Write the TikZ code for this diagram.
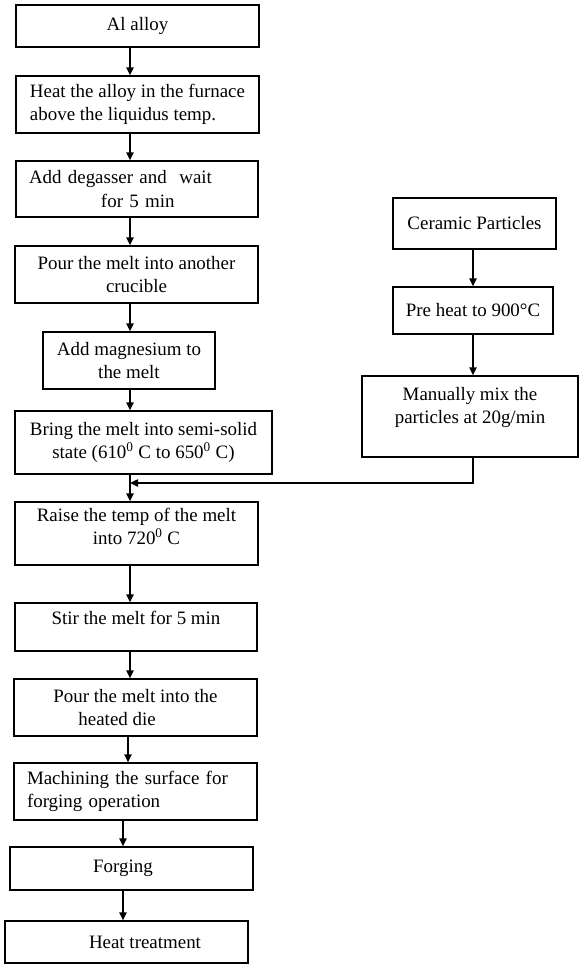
\documentclass[tikz,border=0pt]{standalone}
\usepackage{fontspec}
\setmainfont{Liberation Serif}
\usepackage{tikz}
\usetikzlibrary{arrows.meta}
\newlength\pxu
\setlength\pxu{0.75pt}

\begin{document}
\begin{tikzpicture}[
    x=0.75pt, y=-0.75pt,
    stepbox/.style={rectangle, draw=black, line width=1pt, align=center,
                  inner xsep=13\pxu, inner ysep=3\pxu,
                  font=\fontsize{14.2}{17.3}\selectfont},
    arr/.style={-{Triangle[length=6pt, width=5.5pt]}, line width=1pt},
]
\useasboundingbox (0,0) rectangle (579,965);

% main route
\node[stepbox, minimum width=243\pxu, minimum height=42\pxu] (alloy) at (137.5,26) {Al alloy};
\node[stepbox, align=left, minimum width=243\pxu, minimum height=57\pxu] (furnace) at (137.5,104.5) {Heat the alloy in the furnace\\above the liquidus temp.};
\node[stepbox, text width=216\pxu, align=left, minimum height=56\pxu] (degas) at (137,189) {Add degasser and\ \ wait\\\hspace*{72\pxu}for 5 min};
\node[stepbox, minimum width=243\pxu, minimum height=57\pxu] (crucible) at (136.5,274.5) {Pour the melt into another\\crucible};
\node[stepbox, minimum width=172\pxu, minimum height=57\pxu] (magnesium) at (129,360.5) {Add magnesium to\\the melt};
\node[stepbox, minimum width=257\pxu, minimum height=63\pxu] (semisolid) at (143.5,442.5) {Bring the melt into semi-solid\\state (610\textsuperscript{0} C to 650\textsuperscript{0} C)};
\node[stepbox, minimum width=243\pxu, minimum height=63\pxu] (raise) at (136.5,533.5) {Raise the temp of the melt\\into 720\textsuperscript{0} C\\[-8\pxu]\mbox{}};
\node[stepbox, minimum width=242\pxu, minimum height=48\pxu] (stir) at (136,627) {Stir the melt for 5 min\\[-5\pxu]\mbox{}};
\node[stepbox, align=left, minimum width=243\pxu, minimum height=57\pxu] (die) at (135.5,707.5) {Pour the melt into the\\\hspace*{25\pxu}heated die};
\node[stepbox, text width=217\pxu, align=left, minimum height=57\pxu] (machining) at (135.5,791.5) {Machining the surface for\\forging operation};
\node[stepbox, minimum width=243\pxu, minimum height=43\pxu] (forging) at (131.5,868.5) {Forging\hspace*{17\pxu}};
\node[stepbox, minimum width=243\pxu, minimum height=42\pxu] (treatment) at (126.5,942) {\hspace*{37\pxu}Heat treatment};

% particle route
\node[stepbox, minimum width=163\pxu, minimum height=51\pxu] (ceramic) at (474.5,223.5) {Ceramic Particles};
\node[stepbox, minimum width=158\pxu, minimum height=47\pxu] (preheat) at (473,310.5) {Pre heat to 900°C};
\node[stepbox, minimum width=216\pxu, minimum height=81\pxu] (mixing) at (470,416.5) {Manually mix the\\particles at 20g/min\\[-1\pxu]\mbox{}};

\coordinate (spine) at (130,0);
\coordinate (spineb) at (128,0);
\coordinate (spinec) at (123,0);
\coordinate (rspine) at (473,0);
\coordinate (merge) at (130,483);

\draw[arr] (alloy.south -| spine) -- (furnace.north -| spine);
\draw[arr] (furnace.south -| spine) -- (degas.north -| spine);
\draw[arr] (degas.south -| spine) -- (crucible.north -| spine);
\draw[arr] (crucible.south -| spine) -- (magnesium.north -| spine);
\draw[arr] (magnesium.south -| spine) -- (semisolid.north -| spine);
\draw[arr] (semisolid.south -| spine) -- (raise.north -| spine);
\draw[arr] (raise.south -| spine) -- (stir.north -| spine);
\draw[arr] (stir.south -| spine) -- (die.north -| spine);
\draw[arr] (die.south -| spineb) -- (machining.north -| spineb);
\draw[arr] (machining.south -| spinec) -- (forging.north -| spinec);
\draw[arr] (forging.south -| spinec) -- (treatment.north -| spinec);

\draw[arr] (ceramic.south -| rspine) -- (preheat.north -| rspine);
\draw[arr] (preheat.south -| rspine) -- (mixing.north -| rspine);
\draw[arr] (mixing.south -| rspine) |- (merge);

\end{tikzpicture}
\end{document}
